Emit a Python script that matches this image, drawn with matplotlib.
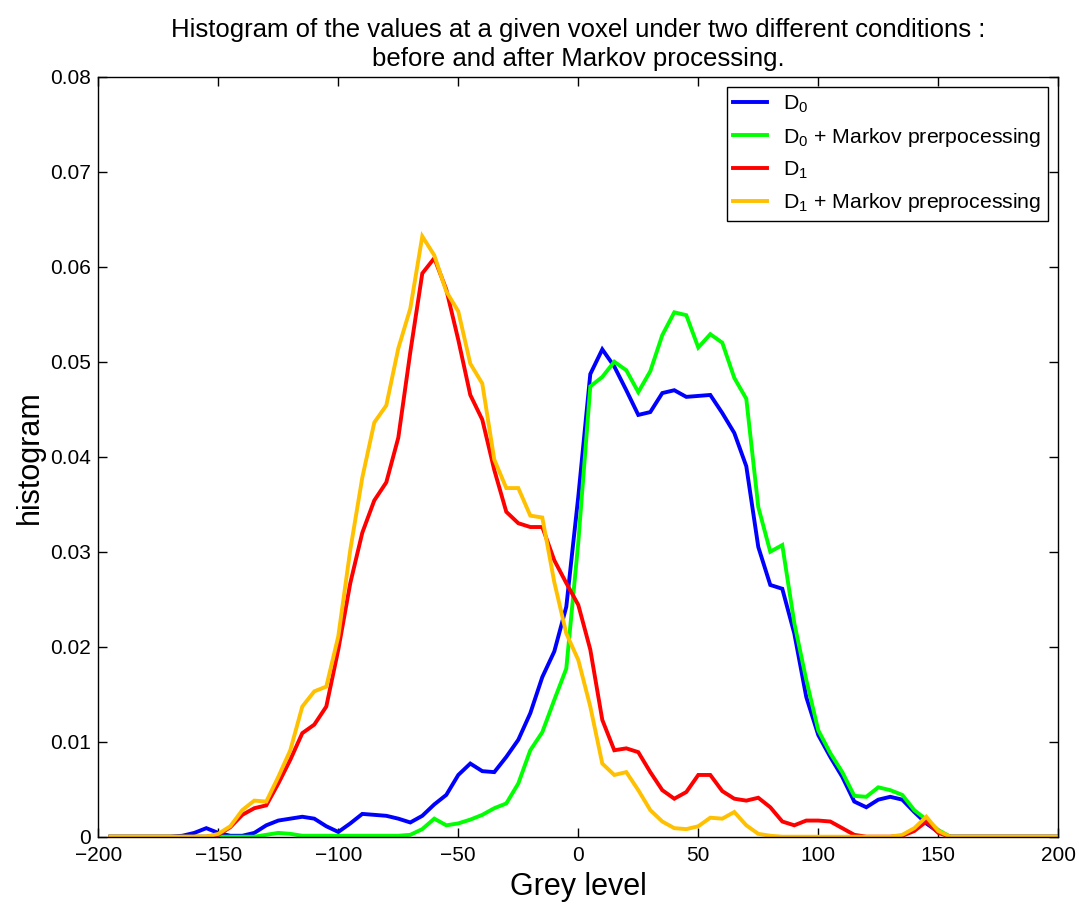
import numpy as np
import matplotlib
matplotlib.use("Agg")
import matplotlib.pyplot as plt

plt.rcParams['font.family'] = ['Liberation Sans', 'DejaVu Sans']
plt.rcParams['mathtext.fontset'] = 'custom'
plt.rcParams['mathtext.rm'] = 'Liberation Sans'
plt.rcParams['mathtext.it'] = 'Liberation Sans'
plt.rcParams['mathtext.default'] = 'regular'

grey = np.arange(-195, 201, 5)  # 80 points

d0 = [0, 0, 0, 0, 0, 0, 0.0001, 0.0004, 0.0009, 0.0004,
      0.0001, 0.0001, 0.0004, 0.0012, 0.0017, 0.0019, 0.0021, 0.0019, 0.0011, 0.0005,
      0.0014, 0.0024, 0.0023, 0.0022, 0.0019, 0.0015, 0.0022, 0.0034, 0.0044, 0.0065,
      0.0077, 0.0069, 0.0068, 0.0084, 0.0102, 0.0130, 0.0168, 0.0195, 0.0242, 0.0358,
      0.0487, 0.0513, 0.0495, 0.0470, 0.0444, 0.0447, 0.0467, 0.0470, 0.0463, 0.0464,
      0.0465, 0.0446, 0.0425, 0.0390, 0.0305, 0.0265, 0.0261, 0.0214, 0.0147, 0.0107,
      0.0084, 0.0063, 0.0037, 0.0031, 0.0039, 0.0042, 0.0039, 0.0026, 0.0014, 0.0005,
      0, 0, 0, 0, 0, 0, 0, 0, 0, 0]

d0_markov = [0, 0, 0, 0, 0, 0, 0, 0, 0, 0,
             0, 0, 0, 0.0002, 0.0004, 0.0003, 0.0001, 0.0001, 0.0001, 0.0001,
             0.0001, 0.0001, 0.0001, 0.0001, 0.0001, 0.0002, 0.0008, 0.0019, 0.0012, 0.0014,
             0.0018, 0.0023, 0.0030, 0.0035, 0.0056, 0.0091, 0.0110, 0.0144, 0.0177, 0.0310,
             0.0474, 0.0484, 0.0500, 0.0491, 0.0468, 0.0490, 0.0528, 0.0552, 0.0549, 0.0515,
             0.0529, 0.0520, 0.0483, 0.0461, 0.0347, 0.0300, 0.0307, 0.0225, 0.0165, 0.0112,
             0.0088, 0.0068, 0.0043, 0.0042, 0.0052, 0.0049, 0.0044, 0.0028, 0.0018, 0.0007,
             0, 0, 0, 0, 0, 0, 0, 0, 0, 0]

d1 = [0, 0, 0, 0, 0, 0, 0, 0, 0, 0.0002,
      0.0010, 0.0023, 0.0030, 0.0033, 0.0056, 0.0081, 0.0109, 0.0118, 0.0137, 0.0197,
      0.0267, 0.0320, 0.0354, 0.0373, 0.0420, 0.0510, 0.0593, 0.0609, 0.0576, 0.0523,
      0.0465, 0.0439, 0.0386, 0.0342, 0.0330, 0.0326, 0.0326, 0.0291, 0.0267, 0.0244,
      0.0197, 0.0123, 0.0091, 0.0093, 0.0089, 0.0068, 0.0049, 0.0040, 0.0047, 0.0065,
      0.0065, 0.0048, 0.0040, 0.0038, 0.0041, 0.0031, 0.0016, 0.0012, 0.0017, 0.0017,
      0.0016, 0.0009, 0.0002, 0, 0, 0, 0.0001, 0.0006, 0.0016, 0.0004,
      0, 0, 0, 0, 0, 0, 0, 0, 0, 0]

d1_markov = [0, 0, 0, 0, 0, 0, 0, 0, 0, 0.0003,
             0.0011, 0.0028, 0.0038, 0.0037, 0.0063, 0.0091, 0.0137, 0.0153, 0.0158, 0.0211,
             0.0302, 0.0378, 0.0436, 0.0454, 0.0514, 0.0556, 0.0632, 0.0612, 0.0574, 0.0553,
             0.0498, 0.0477, 0.0397, 0.0367, 0.0367, 0.0338, 0.0336, 0.0268, 0.0214, 0.0186,
             0.0137, 0.0077, 0.0065, 0.0068, 0.0049, 0.0028, 0.0016, 0.0009, 0.0008, 0.0011,
             0.0020, 0.0019, 0.0026, 0.0012, 0.0003, 0.0001, 0, 0, 0, 0,
             0, 0, 0, 0, 0, 0, 0.0002, 0.0009, 0.0021, 0.0006,
             0, 0, 0, 0, 0, 0, 0, 0, 0, 0]

labels = ['D$_0$', 'D$_0$ + Markov prerpocessing', 'D$_1$', 'D$_1$ + Markov preprocessing']
colors = ['#0000ff', '#00ff00', '#ff0000', '#ffc000']
xticks = [-200, -150, -100, -50, 0, 50, 100, 150, 200]
xtick_labels = ['\u2212200', '\u2212150', '\u2212100', '\u221250', '0', '50', '100', '150', '200']
yticks = [0, 0.01, 0.02, 0.03, 0.04, 0.05, 0.06, 0.07, 0.08]
ytick_labels = ['0', '0.01', '0.02', '0.03', '0.04', '0.05', '0.06', '0.07', '0.08']

fig = plt.figure(figsize=(10.79, 9.07), dpi=100)
ax = fig.add_axes([0.0911, 0.0775, 0.8897, 0.8379])

for series, lab, col in zip([d0, d0_markov, d1, d1_markov], labels, colors):
    ax.plot(grey, series, color=col, lw=2.8, label=lab, solid_joinstyle='miter')

ax.set_xlim(-200, 200)
ax.set_ylim(0, 0.08)
ax.set_xticks(xticks)
ax.set_xticklabels(xtick_labels)
ax.set_yticks(yticks)
ax.set_yticklabels(ytick_labels)
ax.tick_params(direction='in', top=True, right=True, labelsize=15, length=6.5, width=1)
ax.tick_params(axis='y', pad=5)
ax.tick_params(axis='x', pad=7)
for s in ax.spines.values():
    s.set_linewidth(1.0)

ax.set_xlabel('Grey level', fontsize=22, labelpad=5)
ax.set_ylabel('histogram', fontsize=22, labelpad=4)
ax.set_title('Histogram of the values at a given voxel under two different conditions :\n'
             'before and after Markov processing.', fontsize=18.5, pad=8, linespacing=1.25)

leg = ax.legend(loc='upper right', fontsize=15.3, frameon=True, fancybox=False,
                edgecolor='black', framealpha=1, handlelength=1.6, borderaxespad=0.5,
                labelspacing=0.5, borderpad=0.3, handletextpad=0.75)
leg.get_frame().set_linewidth(1.0)

fig.savefig('out.png', dpi=100)
